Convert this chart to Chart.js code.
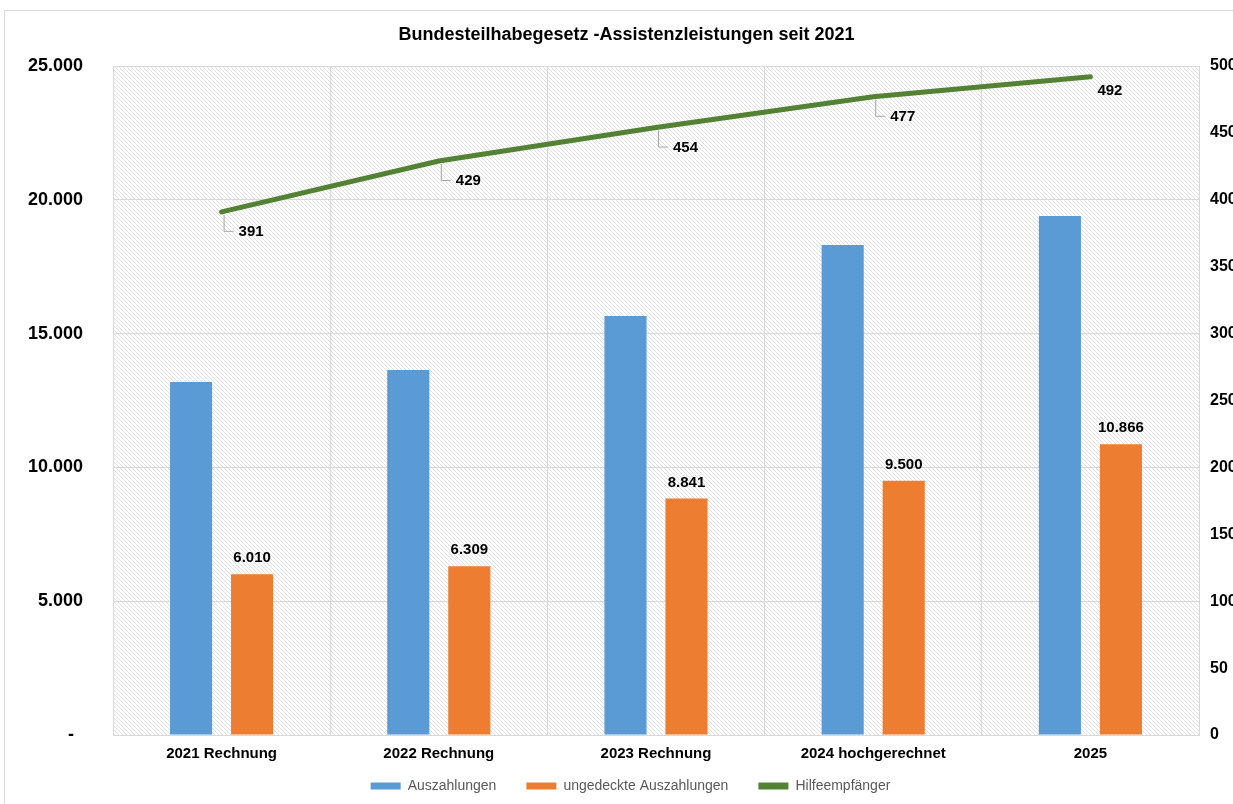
<!DOCTYPE html>
<html><head><meta charset="utf-8">
<script src="https://cdn.jsdelivr.net/npm/chart.js@4.4.1/dist/chart.umd.min.js"></script>
<style>html,body{margin:0;padding:0;background:#fff;overflow:hidden}</style>
</head><body>
<canvas id="c" width="1233" height="804"></canvas>
<script>
// ---- data ----
const categories = ['2021 Rechnung', '2022 Rechnung', '2023 Rechnung', '2024 hochgerechnet', '2025'];
const auszahlungen = [13190, 13640, 15660, 18310, 19390];
const ungedeckteAuszahlungen = [6010, 6309, 8841, 9500, 10866];
const hilfeempfaenger = [391, 429, 454, 477, 492];
const seriesNames = ['Auszahlungen', 'ungedeckte Auszahlungen', 'Hilfeempfänger'];
const titleText = 'Bundesteilhabegesetz -Assistenzleistungen seit 2021';
const leftAxisMax = 25000, leftAxisStep = 5000;
const rightAxisMax = 500, rightAxisStep = 50;

// ---- styles ----
const FONT = '"Liberation Sans", Arial, Helvetica, sans-serif';
const colors = ['#5b9bd5', '#ed7d31', '#548235'];
const gridColor = '#d9d9d9';

function fmt(n) {
  const s = String(Math.round(n));
  return s.replace(/\B(?=(\d{3})+(?!\d))/g, '.');
}

function makeHatch() {
  const c = document.createElement('canvas');
  c.width = 4; c.height = 4;
  const x = c.getContext('2d');
  x.fillStyle = '#ffffff'; x.fillRect(0, 0, 4, 4);
  x.fillStyle = '#dedede';
  for (let i = 0; i < 4; i++) x.fillRect(i, i, 1, 1);
  return c;
}

const backgroundPlugin = {
  id: 'bg',
  beforeDraw(chart) {
    const { ctx, chartArea: a } = chart;
    ctx.save();
    ctx.fillStyle = '#fff';
    ctx.fillRect(0, 0, chart.width, chart.height);
    ctx.strokeStyle = gridColor;
    ctx.lineWidth = 1;
    ctx.strokeRect(4.5, 10.5, chart.width + 20, chart.height + 20);
    ctx.fillStyle = ctx.createPattern(makeHatch(), 'repeat');
    ctx.fillRect(a.left, a.top, a.right - a.left, a.bottom - a.top);
    ctx.restore();
  }
};

// move the legend row so it sits where the reference has it
const legendShift = {
  id: 'legendShift',
  afterLayout(chart) {
    const l = chart.legend;
    if (!l) return;
    const dy = -13, dx = 14;
    l.top += dy; l.bottom += dy;
    l.left += dx; l.right += dx;
  }
};

const labelPlugin = {
  id: 'valueLabels',
  afterDatasetsDraw(chart) {
    const ctx = chart.ctx;
    ctx.save();
    ctx.font = 'bold 15px ' + FONT;
    ctx.fillStyle = '#000';
    ctx.textBaseline = 'middle';
    // orange bar labels
    ctx.textAlign = 'center';
    chart.getDatasetMeta(1).data.forEach((el, i) => {
      ctx.fillText(fmt(ungedeckteAuszahlungen[i]), el.x, el.y - 16);
    });
    // line labels with leader lines
    ctx.textAlign = 'left';
    const meta = chart.getDatasetMeta(2);
    const n = meta.data.length;
    meta.data.forEach((el, i) => {
      const last = i === n - 1;
      if (!last) {
        ctx.strokeStyle = '#a6a6a6';
        ctx.lineWidth = 1;
        ctx.beginPath();
        ctx.moveTo(el.x + 2.5, el.y + 3);
        ctx.lineTo(el.x + 2.5, el.y + 19.5);
        ctx.lineTo(el.x + 12, el.y + 19.5);
        ctx.stroke();
        ctx.fillText(String(hilfeempfaenger[i]), el.x + 17, el.y + 20);
      } else {
        ctx.fillText(String(hilfeempfaenger[i]), el.x + 7, el.y + 14);
      }
    });
    ctx.restore();
  }
};

new Chart(document.getElementById('c'), {
  type: 'bar',
  data: {
    labels: categories,
    datasets: [
      { label: seriesNames[0], data: auszahlungen, backgroundColor: colors[0], yAxisID: 'y',
        categoryPercentage: 0.562, barPercentage: 0.69 },
      { label: seriesNames[1], data: ungedeckteAuszahlungen, backgroundColor: colors[1], yAxisID: 'y',
        categoryPercentage: 0.562, barPercentage: 0.69 },
      { type: 'line', label: seriesNames[2], data: hilfeempfaenger, borderColor: colors[2],
        backgroundColor: colors[2], borderWidth: 5, pointRadius: 0, tension: 0,
        borderCapStyle: 'round', yAxisID: 'y1' }
    ]
  },
  options: {
    responsive: false,
    animation: false,
    layout: { padding: { left: 0, right: 0, top: 0, bottom: -12 } },
    plugins: {
      title: {
        display: true, text: '    ' + titleText, color: '#000',
        font: { family: FONT, size: 18, weight: 'bold' },
        padding: { top: 24, bottom: 20.4 }
      },
      legend: {
        position: 'bottom',
        labels: {
          color: '#595959',
          font: { family: FONT, size: 14 },
          boxWidth: 30, boxHeight: 7, padding: 30,
          generateLabels(chart) {
            const items = Chart.defaults.plugins.legend.labels.generateLabels(chart);
            items.forEach(it => {
              it.fillStyle = colors[it.datasetIndex];
              it.strokeStyle = colors[it.datasetIndex];
              it.lineWidth = 0;
            });
            return items;
          }
        }
      },
      tooltip: { enabled: false }
    },
    scales: {
      x: {
        grid: { offset: true, color: gridColor, drawTicks: false },
        border: { display: true, color: gridColor },
        ticks: { color: '#000', font: { family: FONT, size: 15, weight: 'bold' }, padding: 10 },
        afterFit(s) { s.height = 27; }
      },
      y: {
        position: 'left', min: 0, max: leftAxisMax,
        grid: { color: gridColor, drawTicks: false },
        border: { display: true, color: gridColor },
        ticks: {
          stepSize: leftAxisStep, color: '#000', padding: 30,
          font: { family: FONT, size: 18, weight: 'bold' },
          callback: v => v === 0 ? '-\u2002' : fmt(v)
        },
        afterFit(s) { s.width = 113; }
      },
      y1: {
        position: 'right', min: 0, max: rightAxisMax,
        grid: { display: false, drawTicks: false },
        border: { display: false },
        ticks: {
          stepSize: rightAxisStep, color: '#000', padding: 11,
          font: { family: FONT, size: 16, weight: 'bold' }
        },
        afterFit(s) { s.width = 34; }
      }
    }
  },
  plugins: [backgroundPlugin, legendShift, labelPlugin]
});
</script>
</body></html>
